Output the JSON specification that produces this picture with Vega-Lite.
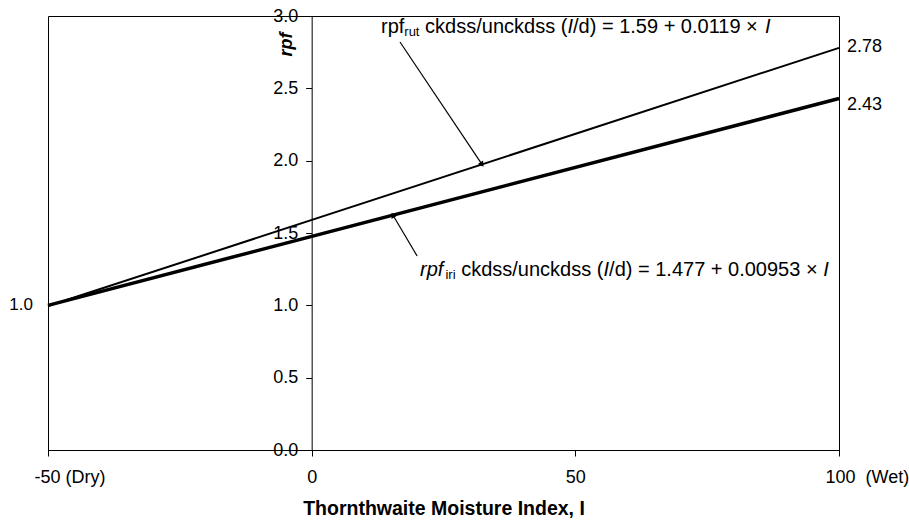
{
  "$schema": "https://vega.github.io/schema/vega-lite/v6.json",
  "width": 791,
  "height": 434,
  "autosize": {"type": "none"},
  "padding": {"left": 48, "top": 16, "right": 70, "bottom": 70},
  "background": "white",
  "config": {
    "view": {"stroke": "#000", "strokeWidth": 1},
    "font": "Liberation Sans",
    "axis": {
      "labelFont": "Liberation Sans",
      "labelFontSize": 18,
      "labelColor": "#000",
      "tickColor": "#000",
      "domainColor": "#000",
      "titleFont": "Liberation Sans",
      "titleColor": "#000",
      "grid": false,
      "tickSize": 6
    }
  },
  "datasets": {
    "lines": [
      {"series": "rut", "I": -50, "rpf": 0.995},
      {"series": "rut", "I": 100, "rpf": 2.78},
      {"series": "iri", "I": -50, "rpf": 1.0},
      {"series": "iri", "I": 100, "rpf": 2.43}
    ],
    "endlabels": [
      {"label": "1.0", "I": -50, "rpf": 1.0},
      {"label": "2.78", "I": 100, "rpf": 2.78},
      {"label": "2.43", "I": 100, "rpf": 2.43}
    ],
    "arrows": [
      {"arrow": "rut", "end": "tail", "I": 16.75, "rpf": 2.82},
      {"arrow": "rut", "end": "head", "I": 32.3, "rpf": 1.974},
      {"arrow": "iri", "end": "tail", "I": 20.0, "rpf": 1.341},
      {"arrow": "iri", "end": "head", "I": 15.4, "rpf": 1.624}
    ],
    "notes": [
      {"note": "rut", "I": 13.15, "rpf": 2.924},
      {"note": "iri", "I": 20.54, "rpf": 1.244}
    ]
  },
  "layer": [
    {
      "data": {"name": "lines"},
      "transform": [{"filter": "datum.series == 'rut'"}],
      "mark": {"type": "line", "color": "#000", "strokeWidth": 2},
      "encoding": {
        "x": {
          "field": "I", "type": "quantitative",
          "scale": {"domain": [-50, 100], "nice": false, "zero": false},
          "axis": {
            "values": [-50, 0, 50, 100],
            "labelExpr": "datum.value == -50 ? '-50 (Dry)' : datum.value == 100 ? '100\u00a0 (Wet)' : datum.label",
            "labelAlign": {"condition": {"test": "datum.value == -50 || datum.value == 100", "value": "left"}, "value": "center"},
            "labelOffset": {"condition": {"test": "datum.value == -50 || datum.value == 100", "value": -14}, "value": 0},
            "labelPadding": 12,
            "labelFlush": false,
            "title": "Thornthwaite Moisture Index, I",
            "titleFontSize": 19.5,
            "titleFontWeight": "bold",
            "titlePadding": 13
          }
        },
        "y": {
          "field": "rpf", "type": "quantitative",
          "scale": {"domain": [0, 3], "nice": false},
          "axis": {
            "offset": -263.67,
            "values": [0, 0.5, 1, 1.5, 2, 2.5, 3],
            "format": ".1f",
            "labelFlush": false,
            "labelPadding": 8,
            "title": "rpf",
            "titleFontSize": 18,
            "titleFontWeight": "bold",
            "titleFontStyle": "italic",
            "titleAngle": 270,
            "titleAlign": "center",
            "titleBaseline": "middle",
            "titleX": -25,
            "titleY": 28
          }
        }
      }
    },
    {
      "data": {"name": "lines"},
      "transform": [{"filter": "datum.series == 'iri'"}],
      "mark": {"type": "line", "color": "#000", "strokeWidth": 3.5},
      "encoding": {
        "x": {"field": "I", "type": "quantitative"},
        "y": {"field": "rpf", "type": "quantitative"}
      }
    },
    {
      "data": {"name": "arrows"},
      "mark": {"type": "line", "color": "#000", "strokeWidth": 1.2},
      "encoding": {
        "x": {"field": "I", "type": "quantitative"},
        "y": {"field": "rpf", "type": "quantitative"},
        "detail": {"field": "arrow"}
      }
    },
    {
      "data": {"name": "arrows"},
      "transform": [{"filter": "datum.arrow == 'rut' && datum.end == 'head'"}],
      "mark": {"type": "point", "shape": "triangle-up", "filled": true, "color": "#000", "opacity": 1, "size": 40, "angle": 146},
      "encoding": {
        "x": {"field": "I", "type": "quantitative"},
        "y": {"field": "rpf", "type": "quantitative"}
      }
    },
    {
      "data": {"name": "arrows"},
      "transform": [{"filter": "datum.arrow == 'iri' && datum.end == 'head'"}],
      "mark": {"type": "point", "shape": "triangle-up", "filled": true, "color": "#000", "opacity": 1, "size": 40, "angle": -30},
      "encoding": {
        "x": {"field": "I", "type": "quantitative"},
        "y": {"field": "rpf", "type": "quantitative"}
      }
    },
    {
      "data": {"name": "endlabels"},
      "transform": [{"filter": "datum.label == '1.0'"}],
      "mark": {"type": "text", "align": "right", "baseline": "middle", "dx": -15, "fontSize": 17, "color": "#000"},
      "encoding": {
        "x": {"field": "I", "type": "quantitative"},
        "y": {"field": "rpf", "type": "quantitative"},
        "text": {"field": "label"}
      }
    },
    {
      "data": {"name": "endlabels"},
      "transform": [{"filter": "datum.label == '2.78'"}],
      "mark": {"type": "text", "align": "left", "baseline": "middle", "dx": 8, "dy": -1, "fontSize": 18, "color": "#000"},
      "encoding": {
        "x": {"field": "I", "type": "quantitative"},
        "y": {"field": "rpf", "type": "quantitative"},
        "text": {"field": "label"}
      }
    },
    {
      "data": {"name": "endlabels"},
      "transform": [{"filter": "datum.label == '2.43'"}],
      "mark": {"type": "text", "align": "left", "baseline": "middle", "dx": 8, "dy": 7, "fontSize": 18, "color": "#000"},
      "encoding": {
        "x": {"field": "I", "type": "quantitative"},
        "y": {"field": "rpf", "type": "quantitative"},
        "text": {"field": "label"}
      }
    },
    {
      "data": {"name": "notes"},
      "transform": [{"filter": "datum.note == 'rut'"}],
      "layer": [
        {"mark": {"type": "text", "text": "rpf", "align": "left", "baseline": "middle", "fontSize": 20, "color": "#000", "dx": 0}},
        {"mark": {"type": "text", "text": "rut", "align": "left", "baseline": "middle", "fontSize": 13, "color": "#000", "dx": 23.3, "dy": 5}},
        {"mark": {"type": "text", "text": "ckdss/unckdss (", "align": "left", "baseline": "middle", "fontSize": 20, "color": "#000", "dx": 44.1}},
        {"mark": {"type": "text", "text": "I", "align": "left", "baseline": "middle", "fontSize": 20, "fontStyle": "italic", "color": "#000", "dx": 186.4}},
        {"mark": {"type": "text", "text": "/d) = 1.59 + 0.0119 \u00d7", "align": "left", "baseline": "middle", "fontSize": 20, "color": "#000", "dx": 192.0}},
        {"mark": {"type": "text", "text": "I", "align": "left", "baseline": "middle", "fontSize": 20, "fontStyle": "italic", "color": "#000", "dx": 383.9}}
      ],
      "encoding": {
        "x": {"field": "I", "type": "quantitative"},
        "y": {"field": "rpf", "type": "quantitative"}
      }
    },
    {
      "data": {"name": "notes"},
      "transform": [{"filter": "datum.note == 'iri'"}],
      "layer": [
        {"mark": {"type": "text", "text": "rpf", "align": "left", "baseline": "middle", "fontSize": 20, "fontStyle": "italic", "color": "#000", "dx": 0}},
        {"mark": {"type": "text", "text": "iri", "align": "left", "baseline": "middle", "fontSize": 13, "color": "#000", "dx": 25.5, "dy": 5}},
        {"mark": {"type": "text", "text": "ckdss/unckdss (", "align": "left", "baseline": "middle", "fontSize": 20, "color": "#000", "dx": 41.2}},
        {"mark": {"type": "text", "text": "I", "align": "left", "baseline": "middle", "fontSize": 20, "fontStyle": "italic", "color": "#000", "dx": 183.5}},
        {"mark": {"type": "text", "text": "/d) = 1.477 + 0.00953 \u00d7", "align": "left", "baseline": "middle", "fontSize": 20, "color": "#000", "dx": 189.1}},
        {"mark": {"type": "text", "text": "I", "align": "left", "baseline": "middle", "fontSize": 20, "fontStyle": "italic", "color": "#000", "dx": 403.2}}
      ],
      "encoding": {
        "x": {"field": "I", "type": "quantitative"},
        "y": {"field": "rpf", "type": "quantitative"}
      }
    }
  ]
}
